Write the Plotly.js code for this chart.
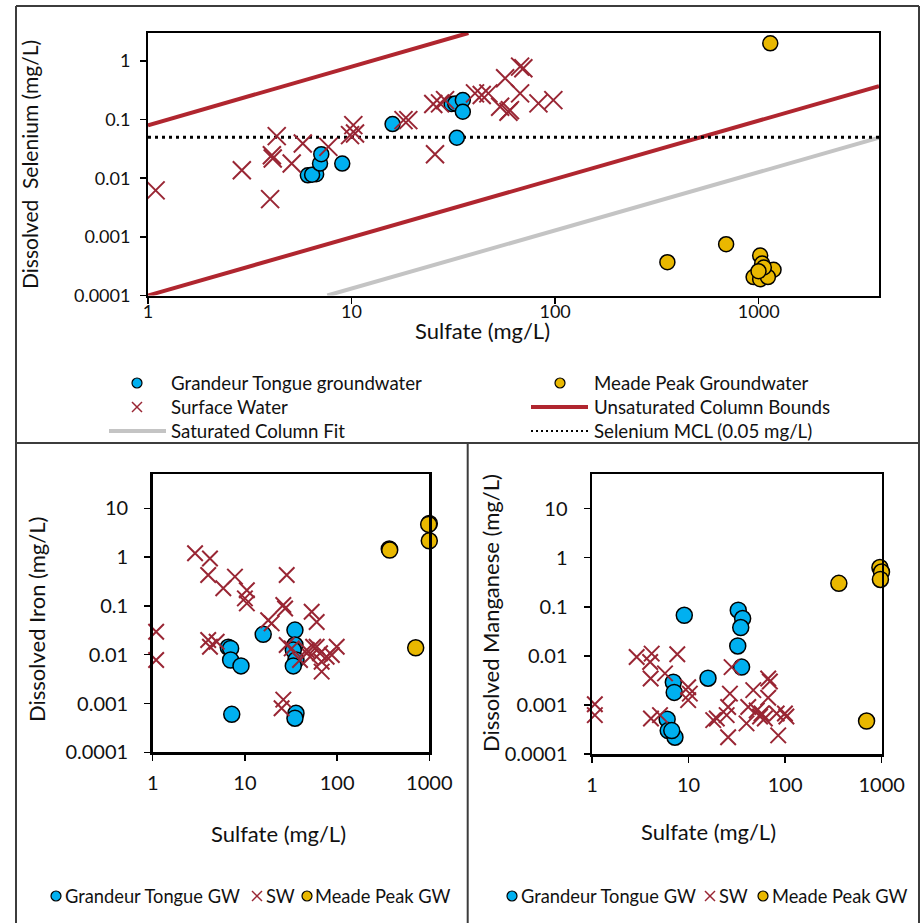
<!DOCTYPE html>
<html><head><meta charset="utf-8">
<script src="https://cdn.plot.ly/plotly-3.0.1.min.js"></script>
<style>html,body{margin:0;padding:0;background:#fff}#chart{width:922px;height:923px}</style>
</head><body><div id="chart"></div>
<script>
// ---------- Top panel: Selenium vs Sulfate ----------
const gtSeSulfate = [6.1, 6.7, 6.4, 7.0, 7.1, 9.0, 15.9, 32.9, 31.0, 32.3, 35.2, 35.2];
const gtSelenium  = [0.0112, 0.0117, 0.0115, 0.0178, 0.0257, 0.0178, 0.084, 0.049, 0.184, 0.189, 0.216, 0.136];
const mpSeSulfate = [1140, 692, 356, 1017, 1040, 1183, 944, 1017, 1110, 1060, 998];
const mpSelenium  = [2.0, 0.00075, 0.00037, 0.00048, 0.00035, 0.000275, 0.000206, 0.00019, 0.000206, 0.0003, 0.00026];
const swSeSulfate = [1.09, 2.89, 3.98, 4.06, 4.1, 4.29, 5.08, 5.76, 7.69, 9.83, 10.2, 10.4, 18, 19, 25.2, 25.7, 27.2, 28.8, 40.4, 43.6, 47, 53.7, 56.8, 59, 60, 67.3, 67.3, 69.8, 82.8, 98];
const swSelenium  = [0.0062, 0.0137, 0.0044, 0.0247, 0.0217, 0.0522, 0.0178, 0.039, 0.0343, 0.0543, 0.0805, 0.058, 0.098, 0.098, 0.184, 0.0257, 0.189, 0.215, 0.28, 0.262, 0.28, 0.166, 0.506, 0.136, 0.145, 0.28, 0.8, 0.75, 0.189, 0.215];
const upperBoundX = [1, 37.5];
const upperBoundY = [0.08, 3.0];
const lowerBoundX = [1, 3900];
const lowerBoundY = [0.0001, 0.37];
const satFitX = [7.6, 3900];
const satFitY = [0.0001, 0.049];
const mclX = [1, 3900];
const mclY = [0.05, 0.05];

// ---------- Bottom-left: Iron vs Sulfate ----------
const gtFeSulfate = [6.6, 7.0, 7.0, 9.07, 7.2, 15.8, 34.9, 34.9, 33.5, 35.8, 33.5, 35.8, 34.9];
const gtIron      = [0.0142, 0.0135, 0.0078, 0.0059, 0.0006, 0.0262, 0.032, 0.0158, 0.0125, 0.0078, 0.0059, 0.00063, 0.0005];
const mpFeSulfate = [1000, 985, 1000, 368, 372, 712];
const mpIron      = [4.93, 4.7, 2.17, 1.47, 1.4, 0.0139];
const swFeSulfate = [1.09, 1.09, 2.88, 4.18, 4.0, 5.83, 7.8, 10.5, 10, 10.5, 28.4, 26.1, 27.3, 17.9, 19.5, 53, 60, 4.0, 4.94, 4.18, 28.4, 32.2, 46.8, 55, 39.6, 65.3, 68, 68, 77, 99, 87.6, 26.1, 25, 60, 51];
const swIron      = [0.0296, 0.0078, 1.2, 0.94, 0.43, 0.23, 0.40, 0.21, 0.143, 0.113, 0.43, 0.105, 0.089, 0.051, 0.044, 0.076, 0.047, 0.02, 0.0185, 0.0146, 0.0158, 0.0135, 0.0125, 0.0146, 0.0078, 0.0107, 0.0072, 0.0045, 0.0091, 0.0146, 0.0099, 0.0012, 0.0008, 0.0146, 0.0091];

// ---------- Bottom-right: Manganese vs Sulfate ----------
const gtMnSulfate = [9.03, 32.7, 36.3, 34.7, 32.3, 35.4, 15.9, 6.95, 7.1, 6.0, 6.15, 7.23, 6.7];
const gtManganese = [0.067, 0.085, 0.0575, 0.0377, 0.0159, 0.0059, 0.0035, 0.0029, 0.0018, 0.00051, 0.0003, 0.00022, 0.0003];
const mpMnSulfate = [958, 995, 970, 360, 697];
const mpManganese = [0.63, 0.51, 0.36, 0.30, 0.00047];
const swMnSulfate = [1.07, 1.07, 2.9, 4.15, 4.0, 4.05, 5.7, 7.64, 4.08, 5.06, 9.9, 10.3, 9.9, 27.9, 26.8, 25.7, 24.8, 25.7, 18, 19.6, 46.8, 41.5, 50.8, 55, 61.6, 57, 66.8, 69.5, 66.8, 81.7, 84.8, 99.5, 103, 39.8];
const swManganese = [0.00103, 0.00062, 0.0095, 0.0111, 0.0075, 0.00345, 0.0044, 0.0108, 0.00053, 0.00062, 0.0023, 0.0017, 0.00125, 0.0059, 0.0017, 0.00091, 0.00062, 0.00022, 0.00049, 0.00053, 0.002, 0.00091, 0.00077, 0.00058, 0.00053, 0.00067, 0.00345, 0.003, 0.0014, 0.00067, 0.00024, 0.00067, 0.00058, 0.00042];

// ---------- tick labels ----------
const xTickVals = [1, 10, 100, 1000];
const xTickText = ['1', '10', '100', '1000'];
const seTickVals = [0.0001, 0.001, 0.01, 0.1, 1];
const seTickText = ['0.0001', '0.001', '0.01', '0.1', '1'];
const btTickVals = [0.0001, 0.001, 0.01, 0.1, 1, 10];
const btTickText = ['0.0001', '0.001', '0.01', '0.1', '1', '10'];

// ---------- styling ----------
const W = 922, H = 923;
const FONT = 'Lato, "Open Sans", sans-serif';
const BLUE = '#00B0F0', GOLD = '#E9B800', XRED = '#992634', LRED = '#B0262F', GRAY = '#C4C4C4';
function px(x) { return x / W; }
function py(y) { return 1 - y / H; }

function circleTrace(x, y, xa, ya, size, color, name) {
  return { type: 'scatter', mode: 'markers', x: x, y: y, xaxis: xa, yaxis: ya, name: name,
    showlegend: false, cliponaxis: false,
    marker: { symbol: 'circle', size: size, color: color, line: { color: '#000', width: 1.5 } } };
}
function crossTrace(x, y, xa, ya, size, name) {
  return { type: 'scatter', mode: 'markers', x: x, y: y, xaxis: xa, yaxis: ya, name: name,
    showlegend: false, cliponaxis: false,
    marker: { symbol: 'x-thin', size: size, color: XRED, line: { color: XRED, width: 2 } } };
}
function lineTrace(x, y, color, width, dash, name) {
  return { type: 'scatter', mode: 'lines', x: x, y: y, xaxis: 'x', yaxis: 'y', name: name,
    showlegend: false, hoverinfo: 'skip',
    line: { color: color, width: width, dash: dash || 'solid' } };
}

const data = [
  lineTrace(satFitX, satFitY, GRAY, 4, null, 'Saturated Column Fit'),
  lineTrace(upperBoundX, upperBoundY, LRED, 4, null, 'Unsaturated Column Bounds'),
  lineTrace(lowerBoundX, lowerBoundY, LRED, 4, null, 'Unsaturated Column Bounds'),
  lineTrace(mclX, mclY, '#000', 3, '3px,4px', 'Selenium MCL (0.05 mg/L)'),
  circleTrace(gtSeSulfate, gtSelenium, 'x', 'y', 15, BLUE, 'Grandeur Tongue groundwater'),
  circleTrace(mpSeSulfate, mpSelenium, 'x', 'y', 15, GOLD, 'Meade Peak Groundwater'),
  crossTrace(swSeSulfate, swSelenium, 'x', 'y', 18, 'Surface Water'),

  circleTrace(gtFeSulfate, gtIron, 'x2', 'y2', 16, BLUE, 'Grandeur Tongue GW'),
  circleTrace(mpFeSulfate, mpIron, 'x2', 'y2', 16, GOLD, 'Meade Peak GW'),
  crossTrace(swFeSulfate, swIron, 'x2', 'y2', 15.5, 'SW'),

  circleTrace(gtMnSulfate, gtManganese, 'x3', 'y3', 16, BLUE, 'Grandeur Tongue GW'),
  circleTrace(mpMnSulfate, mpManganese, 'x3', 'y3', 16, GOLD, 'Meade Peak GW'),
  crossTrace(swMnSulfate, swManganese, 'x3', 'y3', 15.5, 'SW')
];

function axis(opts) {
  return Object.assign({
    type: 'log', showgrid: false, zeroline: false, showline: true, mirror: true,
    linecolor: '#000', linewidth: 2, ticks: 'outside', ticklen: 6, tickwidth: 1.5,
    tickcolor: '#000', tickmode: 'array', fixedrange: true,
    tickfont: { family: FONT, size: 18, color: '#111' }
  }, opts);
}
const botTick = { family: FONT, size: 20, color: '#111' };

const layout = {
  width: W, height: H, margin: { l: 0, r: 0, t: 0, b: 0 },
  paper_bgcolor: '#fff', plot_bgcolor: '#fff', showlegend: false,
  font: { family: FONT, color: '#111' },
  xaxis: axis({ domain: [px(148), px(879)], range: [0, Math.log10(3900)], anchor: 'y',
    tickvals: xTickVals, ticktext: xTickText, ticklabelstandoff: -7 }),
  yaxis: axis({ domain: [py(295.5), py(33)], range: [-4, Math.log10(3)], anchor: 'x',
    tickvals: seTickVals, ticktext: seTickText, ticklabelstandoff: 6 }),
  xaxis2: axis({ domain: [px(152.7), px(429.3)], range: [0, 3], anchor: 'y2',
    tickvals: xTickVals, ticktext: xTickText, linewidth: 2.5, ticklabelstandoff: 5, tickfont: botTick }),
  yaxis2: axis({ domain: [py(752.3), py(474.3)], range: [-4, Math.log10(50)], anchor: 'x2',
    tickvals: btTickVals, ticktext: btTickText, linewidth: 2.5, ticklabelstandoff: 12, tickfont: botTick }),
  xaxis3: axis({ domain: [px(592), px(881.7)], range: [0, 3], anchor: 'y3',
    tickvals: xTickVals, ticktext: xTickText, linewidth: 2.5, ticklabelstandoff: 5, tickfont: botTick }),
  yaxis3: axis({ domain: [py(754), py(474.3)], range: [-4, Math.log10(50)], anchor: 'x3',
    tickvals: btTickVals, ticktext: btTickText, linewidth: 2.5, ticklabelstandoff: 12, tickfont: botTick }),
  shapes: [],
  annotations: []
};

// ---------- axis titles (placed like the original, off-centre) ----------
function title(x, y, text, size, angle) {
  layout.annotations.push({ xref: 'paper', yref: 'paper', x: px(x), y: py(y), text: text,
    showarrow: false, xanchor: 'center', yanchor: 'middle', textangle: angle || 0, borderpad: 0,
    font: { family: FONT, size: size, color: '#111' } });
}
title(482, 330, 'Sulfate (mg/L)', 22);
title(30, 165, 'Dissolved\u00a0 Selenium (mg/L)', 21, -90);
title(278, 833, 'Sulfate (mg/L)', 22);
title(36, 620, 'Dissolved Iron (mg/L)', 22, -90);
title(708, 831, 'Sulfate (mg/L)', 22);
title(490, 613, 'Dissolved Manganese (mg/L)', 22, -90);

// ---------- panel frame ----------
const FRAME = { color: '#3c3c3c', width: 2 };
function paperLine(x0, y0, x1, y1, line) {
  layout.shapes.push({ type: 'line', xref: 'paper', yref: 'paper', x0: px(x0), y0: py(y0), x1: px(x1), y1: py(y1), line: line });
}
paperLine(16, 6, 919, 6, FRAME);
paperLine(16, 6, 16, 923, FRAME);
paperLine(919, 6, 919, 923, FRAME);
paperLine(16, 443, 919, 443, FRAME);
paperLine(467.7, 443, 467.7, 923, FRAME);

// ---------- legends (drawn as symbols + text) ----------
function legCircle(cx, cy, d, color) {
  layout.shapes.push({ type: 'circle', xref: 'paper', yref: 'paper',
    x0: px(cx - d / 2), x1: px(cx + d / 2), y0: py(cy + d / 2), y1: py(cy - d / 2),
    fillcolor: color, line: { color: '#000', width: 1.2 } });
}
function legCross(cx, cy, s) {
  const l = { color: XRED, width: 1.5 };
  paperLine(cx - s / 2, cy - s / 2, cx + s / 2, cy + s / 2, l);
  paperLine(cx - s / 2, cy + s / 2, cx + s / 2, cy - s / 2, l);
}
function legText(x, y, text, size) {
  layout.annotations.push({ xref: 'paper', yref: 'paper', x: px(x), y: py(y), text: text,
    showarrow: false, xanchor: 'left', yanchor: 'middle', borderpad: 0,
    font: { family: FONT, size: size, color: '#111' } });
}
const LS = 18.7;
legCircle(137, 383, 10, BLUE);  legText(170, 383, 'Grandeur Tongue groundwater', LS);
legCross(137, 407, 10);         legText(170, 407, 'Surface Water', LS);
paperLine(109, 431, 166, 431, { color: GRAY, width: 4 }); legText(170, 431, 'Saturated Column Fit', LS);
legCircle(560, 383, 10, GOLD);  legText(593, 383, 'Meade Peak Groundwater', LS);
paperLine(531, 407, 588, 407, { color: LRED, width: 4 }); legText(593, 407, 'Unsaturated Column Bounds', LS);
paperLine(531, 431, 588, 431, { color: '#000', width: 2, dash: '2px,3px' }); legText(593, 431, 'Selenium MCL (0.05 mg/L)', LS);

const BS = 18.3;
legCircle(56, 896, 10, BLUE);  legText(64, 896, 'Grandeur Tongue GW', BS);
legCross(257, 896, 10);        legText(265, 896, 'SW', BS);
legCircle(307, 896, 10, GOLD); legText(314, 896, 'Meade Peak GW', BS);

legCircle(512, 896, 10, BLUE); legText(520, 896, 'Grandeur Tongue GW', BS);
legCross(710, 896, 10);        legText(718, 896, 'SW', BS);
legCircle(763, 896, 10, GOLD); legText(771, 896, 'Meade Peak GW', BS);

Plotly.newPlot('chart', data, layout, { staticPlot: true, displayModeBar: false });
</script></body></html>
